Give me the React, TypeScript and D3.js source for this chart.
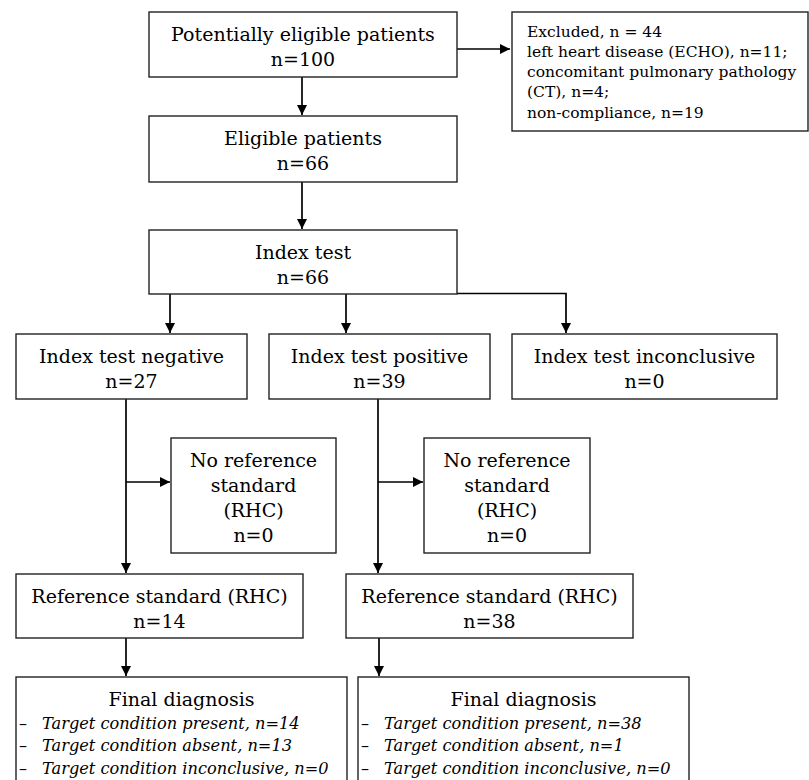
import React from "react";
import * as d3 from "d3";

// flow counts
const potentiallyEligible = 100;
const excludedTotal = 44;
const eligible = 66;
const indexTested = 66;
const indexResults = ["negative", "positive", "inconclusive"];
const indexCounts = [27, 39, 0];
const noReferenceCounts = [0, 0];
const referenceCounts = [14, 38];
const exclusionReasons = ["left heart disease (ECHO)", "concomitant pulmonary pathology (CT)", "non-compliance"];
const exclusionCounts = [11, 4, 19];
const diagnosisOutcomes = ["present", "absent", "inconclusive"];
const diagnosisCounts = [
  [14, 13, 0],
  [38, 1, 0],
];

const W = 809;
const H = 780;
const FONT = "'DejaVu Serif', Georgia, serif";

// box layout (x0, y0, x1, y1)
const layout = {
  potential: [149, 12, 457, 77],
  excluded: [512, 12, 808, 131],
  eligible: [149, 116, 457, 182],
  index: [149, 230, 457, 294],
  neg: [16, 334, 247, 399],
  pos: [269, 334, 490, 399],
  inc: [512, 334, 777, 399],
  noRef0: [171, 438, 336, 553],
  noRef1: [424, 438, 590, 553],
  ref0: [16, 574, 303, 638],
  ref1: [346, 574, 633, 638],
  dx0: [16, 677, 347, 790],
  dx1: [358, 677, 689, 790],
};

const Box = ({ r, lines, size = 19, first = 28.5, step = 25.5 }) => {
  const [x0, y0, x1, y1] = r;
  const cx = (x0 + x1) / 2;
  return (
    <g>
      <rect x={x0} y={y0} width={x1 - x0} height={y1 - y0} fill="#fff" stroke="#222" strokeWidth={1.4} />
      {lines.map((t, i) => (
        <text key={i} x={cx} y={y0 + first + i * step} textAnchor="middle" fontSize={size} fontFamily={FONT} fill="#000">
          {t}
        </text>
      ))}
    </g>
  );
};

export default function App() {
  const L = layout;
  const line = (pts) => d3.line()(pts);

  const links = [
    [[457, 49], [510, 49]],
    [[302, 77], [302, 115]],
    [[302, 182], [302, 229]],
    [[170, 294], [170, 333]],
    [[346, 294], [346, 333]],
    [[457, 293.5], [566, 293.5], [566, 333]],
    [[126, 399], [126, 573]],
    [[126, 482], [170, 482]],
    [[378, 399], [378, 573]],
    [[378, 482], [423, 482]],
    [[126, 638], [126, 676]],
    [[379, 638], [379, 676]],
  ];

  return (
    <svg width={W} height={H} style={{ position: "absolute", left: 0, top: 0, background: "#fff" }}>
      <defs>
        <marker id="arr" viewBox="0 0 10 10" refX={10} refY={5} markerWidth={10} markerHeight={10} markerUnits="userSpaceOnUse" orient="auto">
          <path d="M0,0 L10,5 L0,10 Z" fill="#000" />
        </marker>
      </defs>
      <rect width={W} height={H} fill="#fff" />
      {links.map((p, i) => (
        <path key={i} d={line(p)} fill="none" stroke="#000" strokeWidth={1.7} markerEnd="url(#arr)" />
      ))}

      <Box r={L.potential} lines={["Potentially eligible patients", `n=${potentiallyEligible}`]} />
      <Box r={L.eligible} lines={["Eligible patients", `n=${eligible}`]} />
      <Box r={L.index} lines={["Index test", `n=${indexTested}`]} />
      <Box r={L.neg} lines={[`Index test ${indexResults[0]}`, `n=${indexCounts[0]}`]} />
      <Box r={L.pos} lines={[`Index test ${indexResults[1]}`, `n=${indexCounts[1]}`]} />
      <Box r={L.inc} lines={[`Index test ${indexResults[2]}`, `n=${indexCounts[2]}`]} />
      <Box r={L.noRef0} lines={["No reference", "standard", "(RHC)", `n=${noReferenceCounts[0]}`]} first={29} step={25} />
      <Box r={L.noRef1} lines={["No reference", "standard", "(RHC)", `n=${noReferenceCounts[1]}`]} first={29} step={25} />
      <Box r={L.ref0} lines={["Reference standard (RHC)", `n=${referenceCounts[0]}`]} />
      <Box r={L.ref1} lines={["Reference standard (RHC)", `n=${referenceCounts[1]}`]} />

      {/* excluded box */}
      <g>
        <rect x={L.excluded[0]} y={L.excluded[1]} width={L.excluded[2] - L.excluded[0]} height={L.excluded[3] - L.excluded[1]} fill="#fff" stroke="#222" strokeWidth={1.4} />
        {[
          `Excluded, n = ${excludedTotal}`,
          `${exclusionReasons[0]}, n=${exclusionCounts[0]};`,
          exclusionReasons[1].replace(" (CT)", ""),
          `(CT), n=${exclusionCounts[1]};`,
          `${exclusionReasons[2]}, n=${exclusionCounts[2]}`,
        ].map((t, i) => (
          <text key={i} x={527} y={L.excluded[1] + 24.5 + i * 20.3} fontSize={15.5} fontFamily={FONT} fill="#000">
            {t}
          </text>
        ))}
      </g>

      {/* final diagnosis boxes */}
      {[L.dx0, L.dx1].map((r, k) => {
        const [x0, y0, x1, y1] = r;
        return (
          <g key={k}>
            <rect x={x0} y={y0} width={x1 - x0} height={y1 - y0} fill="#fff" stroke="#222" strokeWidth={1.4} />
            <text x={(x0 + x1) / 2} y={y0 + 28.5} textAnchor="middle" fontSize={19} fontFamily={FONT} fill="#000">
              Final diagnosis
            </text>
            {diagnosisOutcomes.map((o, i) => (
              <g key={o}>
                <text x={x0 + 3} y={y0 + 51.5 + i * 22.5} fontSize={16} fontFamily={FONT} fill="#000">–</text>
                <text x={x0 + 26} y={y0 + 51.5 + i * 22.5} fontSize={16.2} fontStyle="italic" fontFamily={FONT} fill="#000">
                  {`Target condition ${o}, n=${diagnosisCounts[k][i]}`}
                </text>
              </g>
            ))}
          </g>
        );
      })}
    </svg>
  );
}
